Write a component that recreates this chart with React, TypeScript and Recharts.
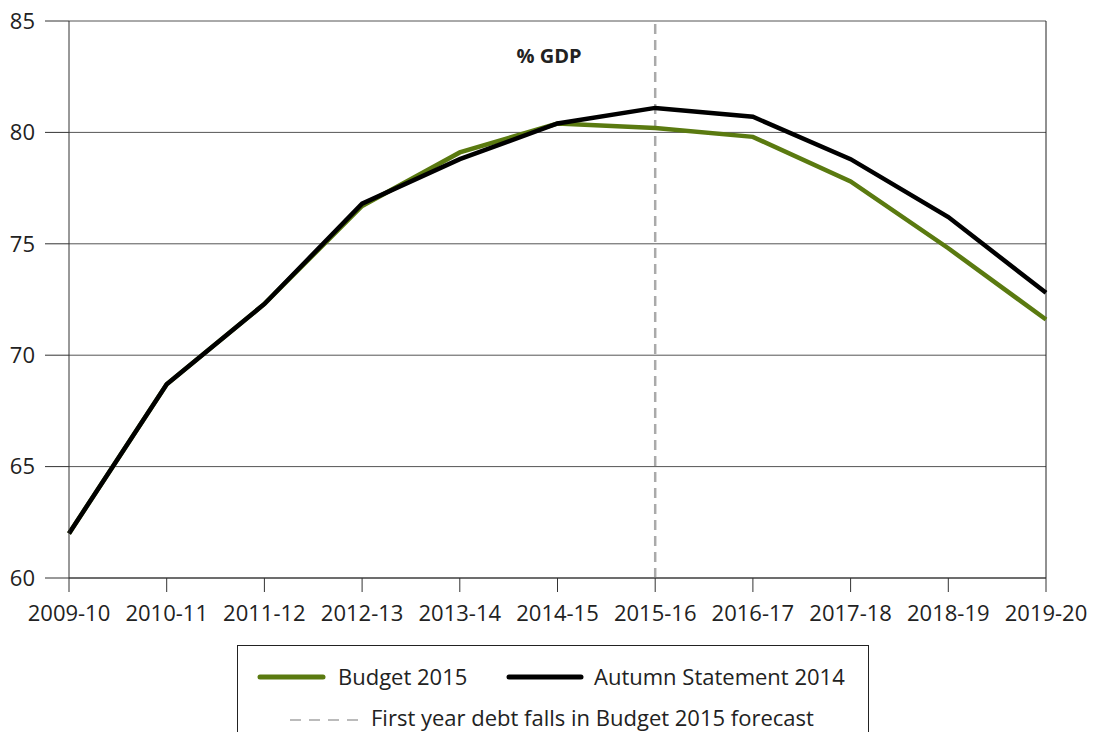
import { LineChart, Line, XAxis, YAxis, CartesianGrid, ReferenceLine } from "recharts";

const years = ["2009-10", "2010-11", "2011-12", "2012-13", "2013-14", "2014-15", "2015-16", "2016-17", "2017-18", "2018-19", "2019-20"];
const budget2015 = [62.0, 68.7, 72.3, 76.7, 79.1, 80.4, 80.2, 79.8, 77.8, 74.8, 71.6];
const autumn2014 = [62.0, 68.7, 72.3, 76.8, 78.8, 80.4, 81.1, 80.7, 78.8, 76.2, 72.8];
const yTicks = [60, 65, 70, 75, 80, 85];
const firstFallYear = "2015-16";

const GREEN = "#5a7a10";
const FONT = "'Open Sans', 'Noto Sans', sans-serif";

const data = years.map((year, i) => ({ year, budget: budget2015[i], autumn: autumn2014[i] }));

export default function App() {
  // cancel the body margin so page pixels and chart pixels line up
  return (
    <div style={{ position: "relative", margin: -8, width: 1096, height: 740, overflow: "hidden", fontFamily: FONT, color: "#222" }}>
      <LineChart width={1096} height={648} data={data} margin={{ top: 21, right: 50, left: 0, bottom: 0 }}>
        <CartesianGrid vertical={false} stroke="#555" strokeWidth={1} />
        <XAxis
          dataKey="year"
          interval={0}
          height={70}
          tickSize={14}
          tickMargin={13}
          stroke="#333"
          tick={{ fill: "#222", fontSize: 22, fontFamily: FONT }}
        />
        <YAxis
          width={69}
          domain={[60, 85]}
          ticks={yTicks}
          tickSize={24}
          tickMargin={10}
          stroke="#333"
          tick={{ fill: "#222", fontSize: 22, fontFamily: FONT }}
        />
        <ReferenceLine x="2019-20" stroke="#222" strokeWidth={1} />
        <ReferenceLine x={firstFallYear} stroke="#aaa" strokeWidth={2.5} strokeDasharray="10 6" />
        <Line type="linear" dataKey="budget" stroke={GREEN} strokeWidth={4.5} dot={false} isAnimationActive={false} />
        <Line type="linear" dataKey="autumn" stroke="#000" strokeWidth={4.5} dot={false} isAnimationActive={false} />
      </LineChart>

      <div style={{ position: "absolute", left: 499, top: 42, width: 100, textAlign: "center", fontWeight: 700, fontSize: 20, lineHeight: "28px" }}>
        % GDP
      </div>

      <div style={{ position: "absolute", left: 237, top: 645, width: 630, height: 110, border: "1px solid #222", fontSize: 22 }}>
        <svg width={630} height={100} style={{ position: "absolute", left: 0, top: 0 }}>
          <line x1={22} x2={85} y1={31} y2={31} stroke={GREEN} strokeWidth={5} strokeLinecap="round" />
          <line x1={271} x2={343} y1={31} y2={31} stroke="#000" strokeWidth={5} strokeLinecap="round" />
          <line x1={52} x2={121} y1={74} y2={74} stroke="#bbb" strokeWidth={2} strokeDasharray="11 8" />
        </svg>
        <div style={{ position: "absolute", left: 100, top: 15, lineHeight: "30px" }}>Budget 2015</div>
        <div style={{ position: "absolute", left: 356, top: 15, lineHeight: "30px" }}>Autumn Statement 2014</div>
        <div style={{ position: "absolute", left: 133, top: 56, lineHeight: "30px" }}>First year debt falls in Budget 2015 forecast</div>
      </div>
    </div>
  );
}
